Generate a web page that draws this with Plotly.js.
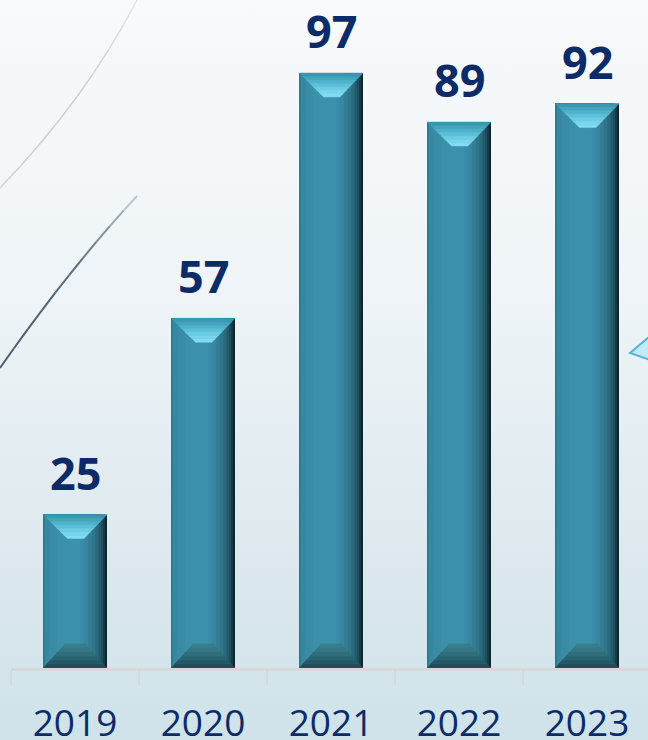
<!DOCTYPE html>
<html>
<head>
<meta charset="utf-8">
<script src="https://cdn.plot.ly/plotly-3.0.1.min.js"></script>
<style>
  html, body { margin:0; padding:0; }
  body { width:648px; height:740px; overflow:hidden;
    background: linear-gradient(to bottom, #f8fafc 0%, #eef4f7 40%, #dde9ee 75%, #cfe2ea 100%); }
  #chart { width:648px; height:740px; }
</style>
</head>
<body>
<div id="chart"></div>
<script>
// ---- data ----
const years = ['2019', '2020', '2021', '2022', '2023'];
const values = [25, 57, 97, 89, 92];
const labels = ['25', '57', '97', '89', '92'];

// ---- style ----
const navy = '#0d2b66';
const barW = 0.5;           // bar width in category units
const capH = 3.9;           // bevel height in value units
const xIdx = years.map((_, i) => i);

// horizontal shading layers: [from, to] as fractions of bar width, colour
const layers = [
  [0.00, 1.00, '#0e2630'],
  [0.00, 0.97, '#153a47'],
  [0.00, 0.94, '#1d4b5a'],
  [0.00, 0.91, '#24596b'],
  [0.00, 0.87, '#2a687c'],
  [0.00, 0.82, '#2f7489'],
  [0.01, 0.76, '#337e94'],
  [0.03, 0.70, '#36879f'],
  [0.10, 0.64, '#388ca5'],
  [0.22, 0.58, '#3b91aa']
];

const traces = layers.map(([a, b, c]) => ({
  type: 'bar', x: xIdx, y: values,
  width: barW * (b - a), offset: -barW / 2 + barW * a,
  marker: { color: c, line: { width: 0 } },
  hoverinfo: 'skip', showlegend: false
}));

// bevel facets derived from the bar values, drawn as graded slices
const h = barW / 2;
function lerp(a, b, t) { return a + (b - a) * t; }
function facetSlices(edge, colors) {
  const n = colors.length;
  colors.forEach((c, k) => {
    const xs = [], ys = [];
    values.forEach((v, i) => {
      const e0 = edge(i, v, k / n), e1 = edge(i, v, (k + 1) / n);
      xs.push(e0[0], e0[1], e1[1], e1[0], null);
      ys.push(e0[2], e0[2], e1[2], e1[2], null);
    });
    traces.push({ type: 'scatter', mode: 'lines', x: xs, y: ys, fill: 'toself',
      fillcolor: c, line: { width: 0.5, color: c }, hoverinfo: 'skip', showlegend: false });
  });
}
// top facet: from top edge (full width) down to a narrow edge
facetSlices((i, v, t) => [lerp(i - h, i - 0.06, t), lerp(i + h, i + 0.07, t), v - capH * t],
  ['#3b96b0', '#44a3bd', '#4fb1ca', '#5cbfd7', '#6acbe2', '#77d4ea', '#82dbf0']);
// bottom facet: from bottom edge (full width) up to a narrow edge
facetSlices((i, v, t) => [lerp(i - h, i - 0.08, t), lerp(i + h, i + 0.08, t), capH * t],
  ['#1f4d5a', '#245865', '#2a6370', '#2f6d7b', '#337684', '#377e8c']);

// ---- layout ----
const W = 648, H = 740, L = 11, B = 72;
const pw = W - L, ph = H - B;
const px = x => (x - L) / pw, py = y => 1 - y / ph;   // decoration helpers (pixel -> paper)

function quadSegments(p0, c, p2, n, colors, width) {
  const pt = t => [
    (1 - t) * (1 - t) * p0[0] + 2 * (1 - t) * t * c[0] + t * t * p2[0],
    (1 - t) * (1 - t) * p0[1] + 2 * (1 - t) * t * c[1] + t * t * p2[1]];
  const out = [];
  for (let k = 0; k < n; k++) {
    const a = pt(k / n), b = pt((k + 1) / n);
    out.push({ type: 'line', xref: 'paper', yref: 'paper', layer: 'below',
      x0: px(a[0]), y0: py(a[1]), x1: px(b[0]), y1: py(b[1]),
      line: { color: colors[Math.min(k, colors.length - 1)], width: width } });
  }
  return out;
}

const annotations = values.map((v, i) => ({
  x: i, y: v, xref: 'x', yref: 'y', text: '<b>' + labels[i] + '</b>', showarrow: false,
  yanchor: 'bottom', yshift: 10, font: { family: 'Open Sans, sans-serif', size: 45, color: navy }
}));

const shapes = [].concat(
  quadSegments([137, 0], [85, 100], [0, 188], 8,
    ['#dde2e5', '#d6dbdf', '#d0d5d9', '#cbd0d4', '#c8cdd1', '#c8cdd1', '#cad0d4', '#ccd2d6'], 1.4),
  quadSegments([137, 196], [70, 268], [0, 368], 10,
    ['#b9c4cc', '#9aa9b4', '#80919e', '#6d7f8d', '#5f7282', '#56697a', '#506375', '#4c6072', '#4a5e70', '#4a5e70'], 2),
  [{ type: 'path', xref: 'paper', yref: 'paper', layer: 'below',
     path: 'M ' + px(630) + ',' + py(353) + ' L ' + px(650) + ',' + py(336) + ' L ' + px(650) + ',' + py(360) + ' Z',
     fillcolor: '#c2e9f4', line: { color: '#4db5d2', width: 2 } }]
);

const layout = {
  width: W, height: H,
  margin: { l: L, r: 0, t: 0, b: B, pad: 0 },
  paper_bgcolor: 'rgba(0,0,0,0)', plot_bgcolor: 'rgba(0,0,0,0)',
  barmode: 'overlay', showlegend: false,
  xaxis: {
    type: 'linear', range: [-0.5, 4.5 - 3 / 128], fixedrange: true,
    tickmode: 'array', tickvals: xIdx, ticktext: years,
    ticks: 'outside', ticklen: 21, tickcolor: 'rgba(0,0,0,0)',
    minor: { tickmode: 'array', tickvals: [-0.5, 0.5, 1.5, 2.5, 3.5, 4.5], ticks: 'outside',
             ticklen: 14, tickwidth: 2, tickcolor: '#d6d8da' },
    showline: true, linecolor: '#d6d8da', linewidth: 3,
    showgrid: false, zeroline: false,
    tickfont: { family: 'Open Sans, sans-serif', size: 37, color: navy }
  },
  yaxis: { range: [0, 108.9], visible: false, fixedrange: true, showgrid: false, zeroline: false },
  annotations, shapes
};

Plotly.newPlot('chart', traces, layout, { displayModeBar: false, staticPlot: true });
</script>
</body>
</html>
